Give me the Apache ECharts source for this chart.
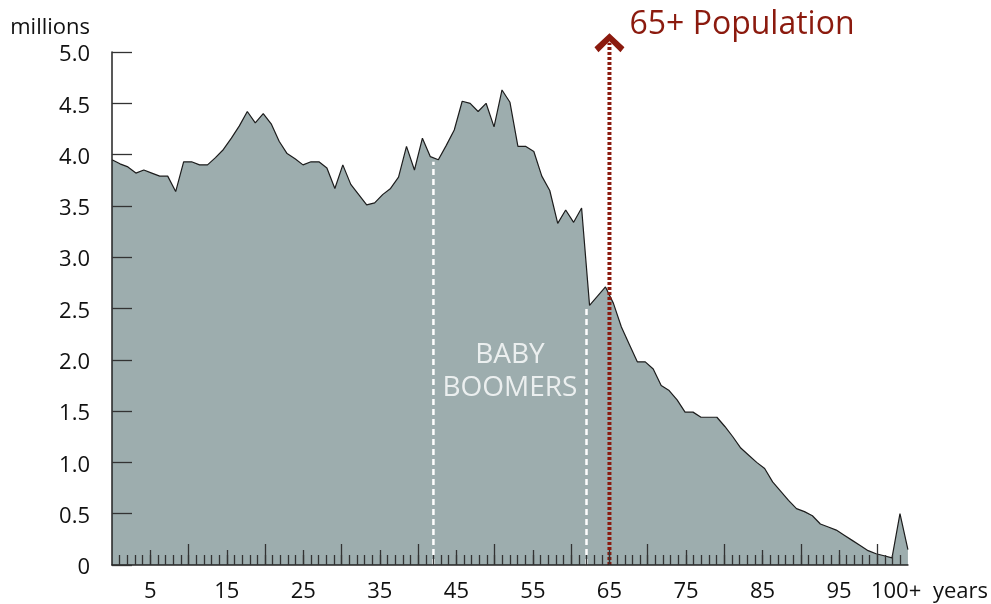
<!DOCTYPE html>
<html>
<head>
<meta charset="utf-8">
<script src="https://cdn.jsdelivr.net/npm/echarts@6/dist/echarts.min.js"></script>
<style>
    html, body { margin: 0; padding: 0; background: #fff; }
    #chart { width: 991px; height: 604px; }
</style>
</head>
<body>
<div id="chart"></div>
<script>
'use strict';

// population by single year of age, millions (last point is 100+)
var population = [
    3.95, 3.91, 3.88, 3.82, 3.85, 3.82, 3.79, 3.79, 3.64, 3.93,
    3.93, 3.90, 3.90, 3.97, 4.05, 4.16, 4.28, 4.42, 4.31, 4.40,
    4.30, 4.13, 4.01, 3.96, 3.90, 3.93, 3.93, 3.87, 3.67, 3.90,
    3.71, 3.61, 3.51, 3.53, 3.61, 3.67, 3.78, 4.08, 3.85, 4.16,
    3.98, 3.95, 4.09, 4.24, 4.52, 4.50, 4.42, 4.50, 4.27, 4.63,
    4.51, 4.08, 4.08, 4.03, 3.79, 3.65, 3.33, 3.46, 3.34, 3.48,
    2.53, 2.62, 2.71, 2.55, 2.32, 2.15, 1.98, 1.98, 1.91, 1.75,
    1.70, 1.61, 1.49, 1.49, 1.44, 1.44, 1.44, 1.35, 1.25, 1.14,
    1.07, 1.00, 0.94, 0.81, 0.72, 0.63, 0.55, 0.52, 0.48, 0.40,
    0.37, 0.34, 0.29, 0.24, 0.19, 0.14, 0.11, 0.09, 0.07, 0.50,
    0.15
];

// tick scale along the bottom (one tick per year, a bit wider than the data)
var tickCount = 105;
var tickLabelPos = [5, 15, 25, 35, 45, 55, 65, 75, 85, 95, 102];
var tickLabelText = ['5', '15', '25', '35', '45', '55', '65', '75', '85', '95', '100+'];

// annotations, in tick-scale ages
var boomerEdges = [['42', 3.93], ['62', 2.53]];
var boomerLabel = ['52', 1.89];
var seniorLine = ['65', 5.09];

var ages = [];
for (var i = 0; i < population.length; i++) ages.push(String(i));
var tickSlots = [];
for (var j = 0; j < tickCount; j++) tickSlots.push(String(j));

var FONT = 'Open Sans';
var RED = '#8b1a0e';

function tickAxis(length, show, extra) {
    var ax = {
        type: 'category',
        position: 'bottom',
        z: 10,
        data: tickSlots,
        boundaryGap: false,
        axisLine: {show: false},
        axisLabel: {show: false},
        axisTick: {
            show: true,
            inside: true,
            length: length,
            interval: show,
            lineStyle: {color: '#333', width: 1.3}
        },
        splitLine: {show: false}
    };
    return Object.assign(ax, extra || {});
}

var chart = echarts.init(document.getElementById('chart'), null, {renderer: 'canvas'});

var series = [
    {
        name: 'Population',
        type: 'line',
        xAxisIndex: 0,
        data: population,
        symbol: 'none',
        z: 2,
        lineStyle: {color: '#1c1c1c', width: 1.2},
        areaStyle: {color: '#9dadae', opacity: 1}
    }
];

boomerEdges.forEach(function (e) {
    series.push({
        type: 'line',
        xAxisIndex: 1,
        data: [[e[0], 0], [e[0], e[1]]],
        symbol: 'none',
        z: 3,
        lineStyle: {color: '#fff', width: 2.5, type: [6, 4]}
    });
});

series.push({
    type: 'scatter',
    xAxisIndex: 1,
    data: [boomerLabel],
    symbolSize: 0,
    z: 4,
    label: {
        show: true,
        position: 'inside',
        formatter: 'BABY\nBOOMERS',
        color: '#fff',
        fontFamily: FONT,
        fontSize: 28,
        lineHeight: 33
    }
});

series.push({
    type: 'line',
    xAxisIndex: 1,
    clip: false,
    showAllSymbol: true,
    z: 5,
    data: [
        {value: [seniorLine[0], 0], symbol: 'none'},
        {
            value: seniorLine,
            symbol: 'path://M0,14 L15,0 L30,14 L26,19 L15,8 L4,19 Z',
            symbolSize: [30, 19],
            label: {
                show: true,
                position: 'right',
                distance: 5,
                offset: [0, -18],
                formatter: '65+ Population',
                color: RED,
                fontFamily: FONT,
                fontSize: 32
            }
        }
    ],
    itemStyle: {color: RED},
    lineStyle: {color: RED, width: 4, type: [3, 2]}
});

var option = {
    animation: false,
    backgroundColor: '#fff',
    textStyle: {fontFamily: FONT},
    grid: {left: 112, right: 83, top: 52, bottom: 39, containLabel: false},
    xAxis: [
        {
            type: 'category',
            position: 'bottom',
            data: ages,
            boundaryGap: false,
            show: false
        },
        tickAxis(10, function (idx) { return idx > 0 && idx < tickCount - 1; }, {
            axisLine: {show: true, onZero: false, lineStyle: {color: '#222', width: 1.5}},
            axisLabel: {
                show: true,
                margin: 16,
                color: '#111',
                fontFamily: FONT,
                fontSize: 22,
                interval: function (idx) { return tickLabelPos.indexOf(idx) >= 0; },
                formatter: function (value, idx) {
                    var k = tickLabelPos.indexOf(idx);
                    if (k < 0) return '';
                    if (tickLabelText[k] === '100+') return '{p|100+}';
                    return tickLabelText[k];
                },
                rich: {p: {fontFamily: FONT, fontSize: 22, color: '#111', padding: [0, 0, 0, 7]}}
            },
            name: 'years',
            nameLocation: 'end',
            nameGap: 25,
            nameTextStyle: {
                color: '#111',
                fontFamily: FONT,
                fontSize: 22,
                verticalAlign: 'top',
                padding: [16, 0, 0, 0]
            }
        }),
        tickAxis(15, function (idx) { return idx > 0 && idx % 5 === 0 && idx % 10 !== 0; }),
        tickAxis(21, function (idx) { return idx > 0 && idx % 10 === 0 && idx < tickCount - 1; })
    ],
    yAxis: {
        type: 'value',
        z: 10,
        min: 0,
        max: 5,
        interval: 0.5,
        name: 'millions',
        nameLocation: 'end',
        nameGap: 13,
        nameTextStyle: {
            color: '#111',
            fontFamily: FONT,
            fontSize: 22,
            align: 'right',
            verticalAlign: 'bottom',
            padding: [0, 22, 0, 0]
        },
        axisLine: {show: true, lineStyle: {color: '#222', width: 1.5}},
        axisTick: {show: true, inside: true, length: 20, lineStyle: {color: '#333', width: 1.3}},
        splitLine: {show: false},
        axisLabel: {
            margin: 22,
            color: '#111',
            fontFamily: FONT,
            fontSize: 22,
            verticalAlign: 'top',
            lineHeight: 6,
            formatter: function (v) { return v === 0 ? '0' : v.toFixed(1); }
        }
    },
    series: series
};

chart.setOption(option);
</script>
</body>
</html>
